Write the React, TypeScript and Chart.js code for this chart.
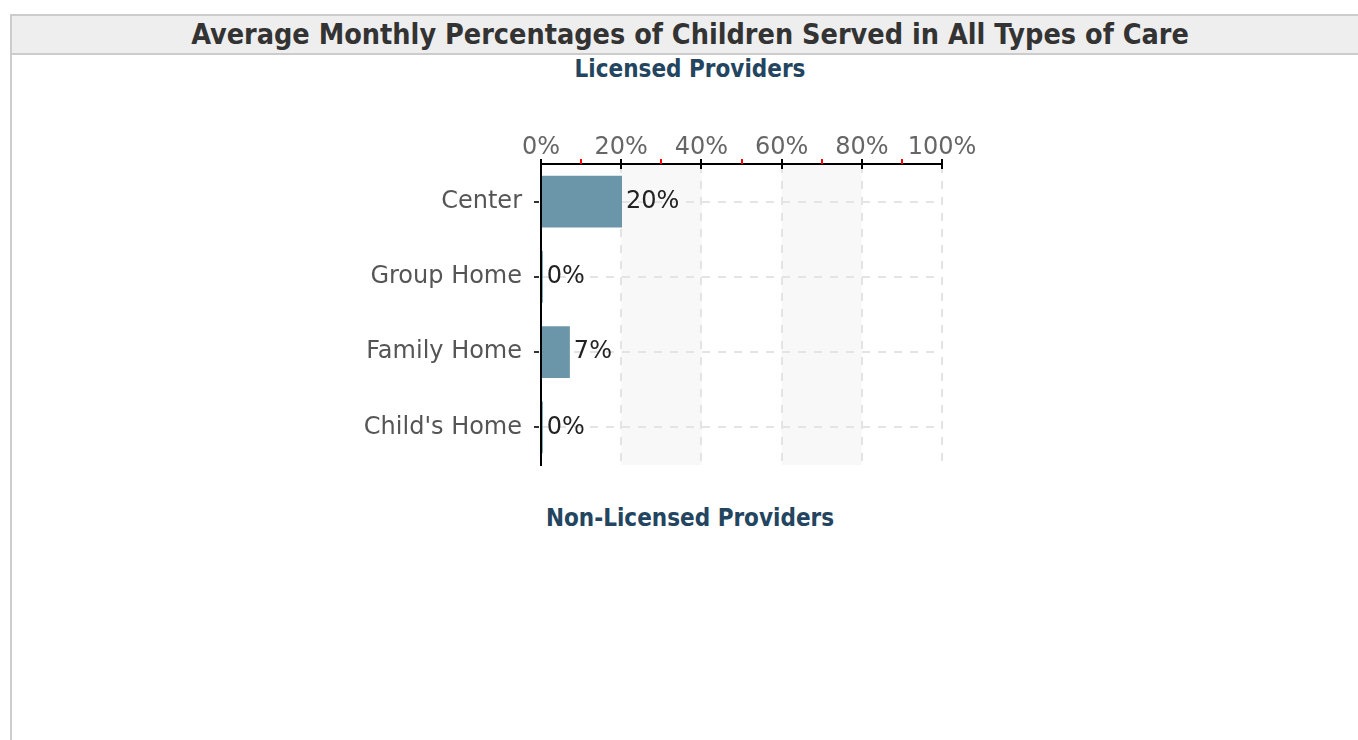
import React, { useEffect, useRef } from "react";
import { Chart, registerables } from "chart.js";

Chart.register(...registerables);

const pageTitle = "Average Monthly Percentages of Children Served in All Types of Care";
const licensedTitle = "Licensed Providers";
const nonLicensedTitle = "Non-Licensed Providers";

const categories = ["Center", "Group Home", "Family Home", "Child's Home"];
const licensedValues = [20.2, 0.45, 7.2, 0.45];
const xTickValues = [0, 20, 40, 60, 80, 100];
const minorTickValues = [10, 30, 50, 70, 90];
const bandRanges = [
  [20, 40],
  [60, 80],
];

const FONT = "'DejaVu Sans', sans-serif";
const BOLD_FONT = "'DejaVu Sans Condensed', 'DejaVu Sans', sans-serif";

const decorPlugin = {
  id: "decor",
  beforeDraw(chart: any) {
    const { ctx, chartArea } = chart;
    const x = chart.scales.x;
    ctx.save();
    ctx.fillStyle = "#f8f8f8";
    bandRanges.forEach(([a, b]) => {
      const x1 = x.getPixelForValue(a);
      const x2 = x.getPixelForValue(b);
      ctx.fillRect(x1, chartArea.top, x2 - x1, chartArea.bottom - chartArea.top);
    });
    ctx.restore();
  },
  afterDraw(chart: any) {
    const { ctx, chartArea } = chart;
    const x = chart.scales.x;
    const y = chart.scales.y;
    ctx.save();
    // major ticks on x axis (crossing the axis line)
    ctx.strokeStyle = "#000";
    ctx.lineWidth = 2;
    xTickValues.forEach((v) => {
      const px = Math.round(x.getPixelForValue(v));
      ctx.beginPath();
      ctx.moveTo(px, chartArea.top - 5);
      ctx.lineTo(px, chartArea.top + 5);
      ctx.stroke();
    });
    // minor red ticks
    ctx.strokeStyle = "#ff0000";
    minorTickValues.forEach((v) => {
      const px = Math.round(x.getPixelForValue(v));
      ctx.beginPath();
      ctx.moveTo(px, chartArea.top - 5);
      ctx.lineTo(px, chartArea.top);
      ctx.stroke();
    });
    // y ticks
    ctx.strokeStyle = "#333";
    ctx.lineWidth = 2;
    categories.forEach((_, i) => {
      const py = Math.round(y.getPixelForValue(i));
      ctx.beginPath();
      ctx.moveTo(chartArea.left - 7, py);
      ctx.lineTo(chartArea.left - 2, py);
      ctx.stroke();
    });
    // data labels
    ctx.fillStyle = "#222";
    ctx.font = `24px ${FONT}`;
    ctx.textAlign = "left";
    ctx.textBaseline = "middle";
    const meta = chart.getDatasetMeta(0);
    meta.data.forEach((bar: any, i: number) => {
      ctx.fillText(Math.round(licensedValues[i]) + "%", bar.x + 4, bar.y);
    });
    ctx.restore();
  },
};

export default function App() {
  const canvasRef = useRef<HTMLCanvasElement | null>(null);

  useEffect(() => {
    const canvas = canvasRef.current;
    if (!canvas) return;
    const chart = new Chart(canvas, {
      type: "bar",
      data: {
        labels: categories,
        datasets: [
          {
            data: licensedValues,
            backgroundColor: "#6b96aa",
            borderWidth: 0,
            categoryPercentage: 1,
            barPercentage: 0.69,
          },
        ],
      },
      options: {
        indexAxis: "y",
        responsive: false,
        animation: false,
        events: [],
        layout: { padding: { left: 0, top: 0, right: 416, bottom: 275 } },
        plugins: {
          legend: { display: false },
          tooltip: { enabled: false },
          title: { display: false },
        },
        scales: {
          x: {
            position: "top",
            min: 0,
            max: 100,
            afterBuildTicks: (s: any) => {
              s.ticks = xTickValues.map((v) => ({ value: v }));
            },
            afterFit: (s: any) => {
              s.height = 164;
            },
            ticks: {
              callback: (v: any) => v + "%",
              color: "#666",
              font: { family: FONT, size: 24 },
              padding: 2,
              maxRotation: 0,
              autoSkip: false,
            },
            grid: { color: "#e4e4e4", lineWidth: 2, drawTicks: false },
            border: { display: true, color: "#000", width: 2, dash: [8, 8] },
          },
          y: {
            afterFit: (s: any) => {
              s.width = 541;
            },
            ticks: {
              color: "#555",
              font: { family: FONT, size: 24 },
              padding: 19,
            },
            grid: { offset: false, color: "#e4e4e4", lineWidth: 2, drawTicks: false },
            border: { display: true, color: "#000", width: 2, dash: [8, 8] },
          },
        },
      } as any,
      plugins: [decorPlugin],
    });
    return () => chart.destroy();
  }, []);

  return (
    <div
      style={{
        position: "fixed",
        left: 0,
        top: 0,
        width: 1358,
        height: 740,
        overflow: "hidden",
        background: "#fff",
      }}
    >
      <div
        style={{
          position: "absolute",
          left: 10,
          top: 14,
          width: 1400,
          height: 800,
          borderLeft: "2px solid #cccccc",
          boxSizing: "border-box",
        }}
      />
      <div
        style={{
          position: "absolute",
          left: 11,
          top: 14,
          width: 1400,
          height: 41,
          background: "#eeeeee",
          borderTop: "2px solid #cccccc",
          borderBottom: "2px solid #cccccc",
          borderLeft: "1px solid #cccccc",
          boxSizing: "border-box",
        }}
      />
      <div
        style={{
          position: "absolute",
          left: 10,
          width: 1360,
          top: 21,
          textAlign: "center",
          fontFamily: BOLD_FONT,
          fontWeight: "bold",
          fontSize: 28.5,
          lineHeight: "28.5px",
          color: "#333",
          whiteSpace: "nowrap",
        }}
      >
        {pageTitle}
      </div>
      <div
        style={{
          position: "absolute",
          left: 10,
          width: 1360,
          top: 57,
          textAlign: "center",
          fontFamily: BOLD_FONT,
          fontWeight: "bold",
          fontSize: 24,
          lineHeight: "24px",
          color: "#23455f",
          whiteSpace: "nowrap",
        }}
      >
        {licensedTitle}
      </div>
      <div
        style={{
          position: "absolute",
          left: 10,
          width: 1360,
          top: 505.5,
          textAlign: "center",
          fontFamily: BOLD_FONT,
          fontWeight: "bold",
          fontSize: 24,
          lineHeight: "24px",
          color: "#23455f",
          whiteSpace: "nowrap",
        }}
      >
        {nonLicensedTitle}
      </div>
      <canvas
        ref={canvasRef}
        width={1358}
        height={740}
        style={{ position: "absolute", left: 0, top: 0, width: 1358, height: 740, display: "block" }}
      />
    </div>
  );
}
